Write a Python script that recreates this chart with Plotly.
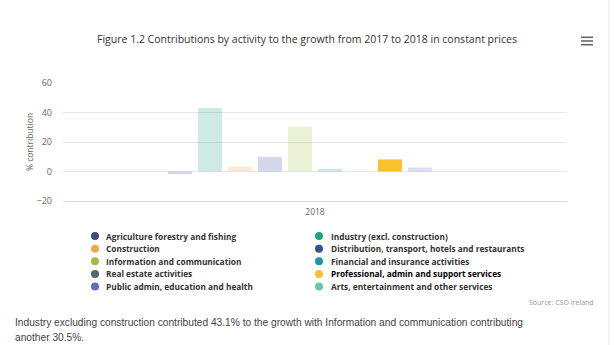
import plotly.graph_objects as go

# Data
categories = ["2018"]
activities = [
    "Agriculture forestry and fishing",
    "Industry (excl. construction)",
    "Construction",
    "Distribution, transport, hotels and restaurants",
    "Information and communication",
    "Financial and insurance activities",
    "Real estate activities",
    "Professional, admin and support services",
    "Public admin, education and health",
    "Arts, entertainment and other services",
]
values = [-1.8, 43.1, 3.4, 10.0, 30.5, 1.8, 0.0, 8.2, 2.7, 0.0]
colors = [
    "#3e4b7c", "#1aa383", "#f5a64a", "#3a4ea0", "#a3be3e",
    "#1d93aa", "#5b6270", "#fbc02d", "#5a6fc0", "#6cc7a6",
]
highlighted = "Professional, admin and support services"
y_ticks = [-20, 0, 20, 40, 60]

title_text = "Figure 1.2 Contributions by activity to the growth from 2017 to 2018 in constant prices"
source_text = "Source: CSO Ireland"
caption_lines = [
    "Industry excluding construction contributed 43.1% to the growth with Information and communication contributing",
    "another 30.5%.",
]

# Canvas geometry
W, H = 614, 345
L, R, T, B = 63, 47, 83, 144
PW, PH = W - L - R, H - T - B


def px(x):
    return (x - L) / PW


def py(y):
    return (H - B - y) / PH


FONT = "Open Sans"

fig = go.Figure()
for name, val, col in zip(activities, values, colors):
    fig.add_trace(go.Bar(
        x=categories, y=[val], name=name,
        marker=dict(color=col, line=dict(width=0)),
        opacity=1.0 if name == highlighted else 0.22,
        showlegend=False,
    ))

annotations = []
shapes = []

# Title
annotations.append(dict(
    text=title_text, xref="paper", yref="paper", x=px(307), y=py(39),
    xanchor="center", yanchor="middle", showarrow=False,
    font=dict(family=FONT, size=10.5, color="#333333"),
))

# Legend (two columns, row-major order)
col_marker_x = [95, 319]
col_text_x = [104, 329]
row_y0, row_step = 236, 12.65
for i, (name, col) in enumerate(zip(activities, colors)):
    c, r = i % 2, i // 2
    yy = row_y0 + r * row_step
    shapes.append(dict(
        type="circle", xref="paper", yref="paper",
        xsizemode="pixel", ysizemode="pixel",
        xanchor=px(col_marker_x[c]), yanchor=py(yy),
        x0=-4, x1=4, y0=-4, y1=4,
        fillcolor=col, line=dict(width=0),
    ))
    annotations.append(dict(
        text="<b>" + name + "</b>", xref="paper", yref="paper",
        x=px(col_text_x[c]), y=py(yy), xanchor="left", yanchor="middle",
        showarrow=False,
        font=dict(family=FONT, size=8.3,
                  color="#000000" if name == highlighted else "#333333"),
    ))

# Credits
annotations.append(dict(
    text=source_text, xref="paper", yref="paper", x=px(596), y=py(302),
    xanchor="right", yanchor="middle", showarrow=False,
    font=dict(family=FONT, size=7, color="#999999"),
))

# Caption under the chart
for k, line in enumerate(caption_lines):
    annotations.append(dict(
        text=line, xref="paper", yref="paper", x=px(13), y=py(322 + 15 * k),
        xanchor="left", yanchor="middle", showarrow=False,
        font=dict(family="Liberation Sans", size=10.2, color="#444444"),
    ))

# Menu icon
for yy in (37.3, 41, 44.7):
    shapes.append(dict(
        type="line", xref="paper", yref="paper",
        x0=px(581), x1=px(593), y0=py(yy), y1=py(yy),
        line=dict(color="#666666", width=1.6),
    ))

# Right frame edge
shapes.append(dict(
    type="line", xref="paper", yref="paper",
    x0=px(609), x1=px(609), y0=py(0), y1=py(H),
    line=dict(color="#e6e6e6", width=1),
))

fig.update_layout(
    width=W, height=H,
    margin=dict(l=L, r=R, t=T, b=B, pad=0),
    paper_bgcolor="white", plot_bgcolor="white",
    barmode="group", bargap=0.405, bargroupgap=0.2,
    showlegend=False,
    annotations=annotations, shapes=shapes,
    xaxis=dict(
        type="category", showgrid=False, showline=True,
        linecolor="#d8d8d8", linewidth=1, ticks="",
        tickfont=dict(family=FONT, size=8.5, color="#666666"),
        ticklabelstandoff=3, fixedrange=True,
    ),
    yaxis=dict(
        range=[-20, 60], tickvals=y_ticks, showgrid=True,
        gridcolor="#e6e6e6", gridwidth=1, zeroline=False, showline=False,
        ticks="", ticklabelstandoff=10,
        tickfont=dict(family=FONT, size=9, color="#666666"),
        title=dict(text="% contribution", standoff=1,
                   font=dict(family=FONT, size=8.5, color="#666666")),
        fixedrange=True,
    ),
)

fig.write_html("out.html")
